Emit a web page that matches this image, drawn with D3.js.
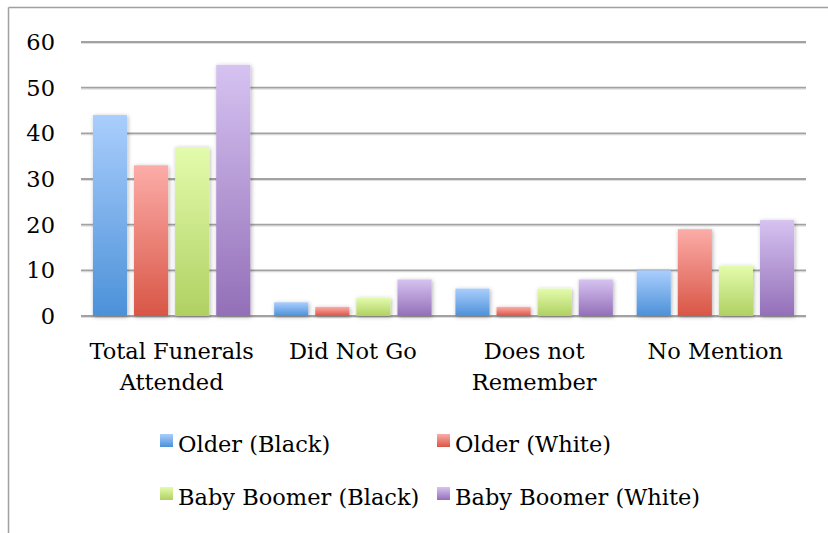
<!DOCTYPE html>
<html>
<head>
<meta charset="utf-8">
<script src="https://cdn.jsdelivr.net/npm/d3@7"></script>
<style>
  body { margin: 0; background: #fff; }
  svg { display: block; }
  text { font-family: "DejaVu Serif", "Liberation Serif", serif; fill: #000; font-size: 22.5px; }
</style>
</head>
<body>
<svg id="chart" width="828" height="533"></svg>
<script>
// chart data
var categories = [['Total Funerals', 'Attended'], ['Did Not Go'], ['Does not', 'Remember'], ['No Mention']];
var series = ['Older (Black)', 'Older (White)', 'Baby Boomer (Black)', 'Baby Boomer (White)'];
var olderBlack = [44, 3, 6, 10];
var olderWhite = [33, 2, 2, 19];
var boomerBlack = [37, 4, 6, 11];
var boomerWhite = [55, 8, 8, 21];
var yTicks = [0, 10, 20, 30, 40, 50, 60];

var values = [olderBlack, olderWhite, boomerBlack, boomerWhite];
var colours = [
  {top: '#aacefd', bottom: '#4c91d8'},
  {top: '#fcaca8', bottom: '#d85646'},
  {top: '#e3fcac', bottom: '#b0d062'},
  {top: '#d6c3f1', bottom: '#936fb8'}
];

var svg = d3.select('#chart'),
    plot = {left: 81, right: 806, top: 42, bottom: 316};

var defs = svg.append('defs');
colours.forEach(function(c, i) {
  var g = defs.append('linearGradient')
    .attr('id', 'grad-' + i)
    .attr('x1', 0).attr('y1', 0).attr('x2', 0).attr('y2', 1);
  g.append('stop').attr('offset', '0%').attr('stop-color', c.top);
  g.append('stop').attr('offset', '100%').attr('stop-color', c.bottom);
});
defs.append('filter').attr('id', 'shadow')
  .attr('x', '-30%').attr('y', '-30%').attr('width', '160%').attr('height', '160%')
  .append('feDropShadow')
  .attr('dx', 1).attr('dy', 1).attr('stdDeviation', 2)
  .attr('flood-color', '#000').attr('flood-opacity', 0.3);

// outer frame (top and left edges visible)
svg.append('line').attr('x1', 8.5).attr('y1', 7.5).attr('x2', 828).attr('y2', 7.5)
  .attr('stroke', '#a0a0a0').attr('stroke-width', 1.5);
svg.append('line').attr('x1', 8.5).attr('y1', 7.5).attr('x2', 8.5).attr('y2', 533)
  .attr('stroke', '#a0a0a0').attr('stroke-width', 1.5);

var y = d3.scaleLinear().domain([0, 60]).range([plot.bottom, plot.top]);
var x0 = d3.scaleBand().domain(d3.range(categories.length))
  .range([plot.left, plot.right]).paddingInner(0).paddingOuter(0);
var x1 = d3.scaleBand().domain(d3.range(series.length))
  .range([0, x0.bandwidth()]).paddingInner(0.17).paddingOuter(0.29);

// gridlines
var grid = svg.append('g');
grid.selectAll('line.shade').data(yTicks).enter().append('line')
  .attr('x1', plot.left).attr('x2', plot.right)
  .attr('y1', function(d) { return y(d) + 1.5; }).attr('y2', function(d) { return y(d) + 1.5; })
  .attr('stroke', '#dedede').attr('stroke-width', 1);
grid.selectAll('line.main').data(yTicks).enter().append('line')
  .attr('x1', plot.left).attr('x2', plot.right)
  .attr('y1', function(d) { return y(d); }).attr('y2', function(d) { return y(d); })
  .attr('stroke', '#a2a2a2').attr('stroke-width', 1.8);

// y tick labels
svg.append('g').selectAll('text').data(yTicks).enter().append('text')
  .attr('x', 55).attr('y', function(d) { return y(d); })
  .attr('dy', '0.36em')
  .attr('text-anchor', 'end')
  .text(function(d) { return d; });

// bars
var groups = svg.append('g').selectAll('g').data(categories).enter().append('g')
  .attr('transform', function(d, i) { return 'translate(' + x0(i) + ',0)'; });
groups.selectAll('rect').data(function(d, ci) {
    return values.map(function(v, si) { return {s: si, v: v[ci]}; });
  }).enter().append('rect')
  .attr('x', function(d) { return x1(d.s); })
  .attr('width', x1.bandwidth())
  .attr('y', function(d) { return y(d.v); })
  .attr('height', function(d) { return y(0) - y(d.v); })
  .attr('fill', function(d) { return 'url(#grad-' + d.s + ')'; })
  .attr('filter', 'url(#shadow)');

// category labels
groups.each(function(lines) {
  var t = d3.select(this).append('text')
    .attr('text-anchor', 'middle');
  lines.forEach(function(l, i) {
    t.append('tspan').attr('x', x0.bandwidth() / 2).attr('y', 359 + i * 31).text(l);
  });
});

// legend
var legendPos = [[160, 434], [437, 434], [160, 487], [437, 487]];
var legend = svg.append('g').selectAll('g').data(series).enter().append('g')
  .attr('transform', function(d, i) { return 'translate(' + legendPos[i][0] + ',' + legendPos[i][1] + ')'; });
legend.append('rect').attr('width', 13).attr('height', 13)
  .attr('fill', function(d, i) { return 'url(#grad-' + i + ')'; });
legend.append('text').attr('x', 18).attr('y', 18)
  .text(function(d) { return d; });
</script>
</body>
</html>
